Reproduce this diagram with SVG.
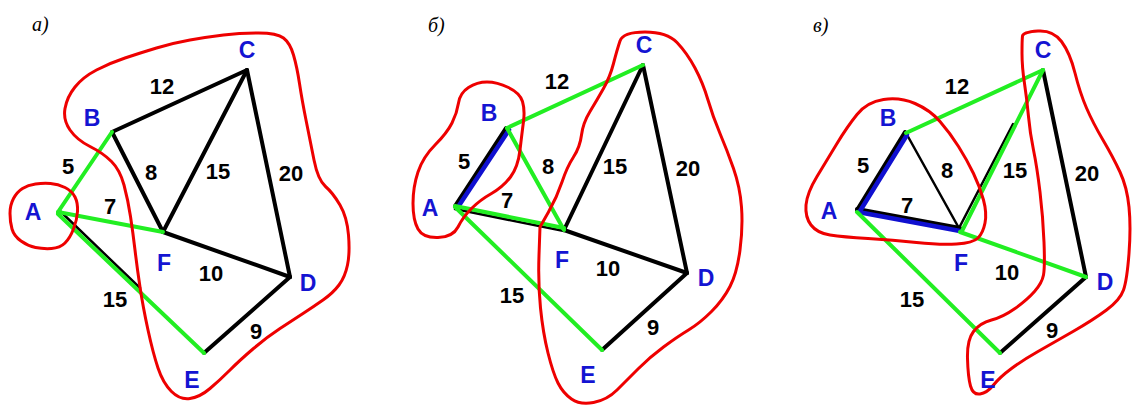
<svg xmlns="http://www.w3.org/2000/svg" width="1133" height="407" viewBox="0 0 1133 407">
<style>
.lbl{font-family:"Liberation Sans",Arial,sans-serif;font-weight:bold;font-size:23px;fill:#1414d2;text-anchor:middle}
.num{font-family:"Liberation Sans",Arial,sans-serif;font-weight:bold;font-size:22px;fill:#000;text-anchor:middle}
.cap{font-family:"Liberation Serif","Times New Roman",serif;font-style:italic;font-size:20px;fill:#000}
.k{stroke:#000;stroke-width:4;stroke-linecap:round;fill:none}
.kt{stroke:#000;stroke-width:2.5;stroke-linecap:round;fill:none}
.g{stroke:#22ee22;stroke-width:4;stroke-linecap:round;fill:none}
.b{stroke:#1010d0;stroke-width:4.5;stroke-linecap:round;fill:none}
.r{stroke:#ee0000;stroke-width:3;fill:none;stroke-linejoin:round}
</style>
<rect width="1133" height="407" fill="#fff"/>
<g id="captions">
<text class="cap" x="32" y="31">а)</text>
<text class="cap" x="428" y="32">б)</text>
<text class="cap" x="813" y="32">в)</text>
</g>
<g id="connectors">
<line class="k" x1="112" y1="132" x2="247" y2="70"/>
<line class="k" x1="112" y1="132" x2="163" y2="232"/>
<line class="k" x1="247" y1="70" x2="163" y2="232"/>
<line class="k" x1="247" y1="70" x2="290" y2="277"/>
<line class="k" x1="163" y1="232" x2="290" y2="277"/>
<line class="k" x1="290" y1="277" x2="204" y2="353"/>
<line class="kt" x1="60" y1="211" x2="140" y2="288"/>
<line class="g" x1="58" y1="212" x2="112" y2="132"/>
<line class="g" x1="58" y1="212" x2="163" y2="232"/>
<line class="g" x1="58" y1="214" x2="204" y2="353"/>
<line class="k" x1="643" y1="65" x2="564" y2="230"/>
<line class="k" x1="643" y1="65" x2="687" y2="273"/>
<line class="k" x1="564" y1="230" x2="687" y2="273"/>
<line class="k" x1="687" y1="273" x2="602" y2="350"/>
<line class="kt" x1="455" y1="209" x2="564" y2="231"/>
<line class="k" x1="455" y1="206" x2="506" y2="128"/>
<line class="b" x1="458" y1="207" x2="509" y2="130"/>
<line class="g" x1="507" y1="128" x2="643" y2="65"/>
<line class="g" x1="507" y1="128" x2="564" y2="230"/>
<line class="g" x1="455" y1="206" x2="564" y2="228"/>
<line class="g" x1="455" y1="207" x2="602" y2="350"/>
<line class="k" x1="1043" y1="70" x2="1086" y2="277"/>
<line class="k" x1="1086" y1="277" x2="1000" y2="353"/>
<line class="kt" x1="906" y1="133" x2="960" y2="230"/>
<line class="kt" x1="958" y1="230" x2="1013" y2="124"/>
<line class="k" x1="857" y1="210" x2="905" y2="132"/>
<line class="k" x1="857" y1="209" x2="960" y2="228"/>
<line class="b" x1="860" y1="211" x2="907" y2="135"/>
<line class="b" x1="858" y1="212" x2="960" y2="231"/>
<line class="g" x1="906" y1="133" x2="1043" y2="70"/>
<line class="g" x1="962" y1="231" x2="1043" y2="70"/>
<line class="g" x1="960" y1="232" x2="1086" y2="277"/>
<line class="g" x1="857" y1="212" x2="1000" y2="353"/>
</g>
<g id="regions">
<path class="r" d="M50.5,183.5 Q58,184 65,187.5 Q72,191 75,197 Q78,203 77.5,211.5 Q77,220 73.5,229 Q70,238 65,243 Q60,248 51.5,248.5 Q43,249 35.5,247.5 Q28,246 21,241 Q14,236 12,229 Q10,222 10,213.5 Q10,205 13.5,198.5 Q17,192 22.5,188.5 Q28,185 35.5,184 Q43,183 50.5,183.5 Z"/>
<path class="r" d="M258.5,33 Q277,33 283.5,38 Q290,43 293.5,55 Q297,67 299.5,83.5 Q302,100 306,120 Q310,140 314,160 Q318,180 325.5,186.5 Q333,193 340,205 Q347,217 348.5,235 Q350,253 347.5,265 Q345,277 339,285 Q333,293 323,300 Q313,307 303,313.5 Q293,320 280,328.5 Q267,337 253.5,348.5 Q240,360 230,370 Q220,380 210,388.5 Q200,397 190,398.5 Q180,400 171.5,391.5 Q163,383 158,368 Q153,353 148,330 Q143,307 140,287 Q137,267 135,250 Q133,233 130.5,216.5 Q128,200 124,185 Q120,170 111.5,161.5 Q103,153 90,146.5 Q77,140 70,130 Q63,120 65,108.5 Q67,97 75,87 Q83,77 96.5,70 Q110,63 125,58 Q140,53 156.5,48 Q173,43 190,40 Q207,37 223.5,35 Q240,33 258.5,33 Z"/>
<path class="r" d="M487,82 Q497,82 508.5,87.5 Q520,93 522.5,101.5 Q525,110 523.5,121.5 Q522,133 520,150 Q518,167 510.5,177 Q503,187 491.5,193.5 Q480,200 471.5,208.5 Q463,217 458,227 Q453,237 438,237.5 Q423,238 418,229 Q413,220 413,203.5 Q413,187 418,172 Q423,157 435,145 Q447,133 452,123 Q457,113 458.5,103 Q460,93 468.5,87.5 Q477,82 487,82 Z"/>
<path class="r" d="M645,32 Q667,32 677,42.5 Q687,53 695,68 Q703,83 708,100 Q713,117 720,133.5 Q727,150 733.5,168.5 Q740,187 741.5,207 Q743,227 740,250 Q737,273 730,286.5 Q723,300 711.5,311.5 Q700,323 688.5,330 Q677,337 663.5,347 Q650,357 638.5,368.5 Q627,380 617,390 Q607,400 593.5,402.5 Q580,405 571.5,399 Q563,393 558,383 Q553,373 548,353 Q543,333 540.5,308 Q538,283 539,255 L540,227 L548.5,212 Q557,197 562,182 Q567,167 573.5,157 Q580,147 581.5,135 Q583,123 590,111.5 Q597,100 603.5,88.5 Q610,77 613.5,63.5 Q617,50 620,41 Q623,32 645,32 Z"/>
<path class="r" d="M883.5,99.5 Q900,97 915,103.5 Q930,110 940,121.5 Q950,133 958.5,146.5 Q967,160 973.5,173.5 Q980,187 983.5,200 Q987,213 985,223 Q983,233 978,238 Q973,243 956.5,244 Q940,245 916.5,242.5 Q893,240 868,238.5 Q843,237 830,235 Q817,233 811,225 Q805,217 806,205 Q807,193 817,176.5 Q827,160 837,143.5 Q847,127 857,114.5 Q867,102 883.5,99.5 Z"/>
<path class="r" d="M1038,31 Q1053,30 1061.5,41.5 Q1070,53 1075,73 Q1080,93 1086.5,108 Q1093,123 1103,140 Q1113,157 1120,172 Q1127,187 1129,207 Q1131,227 1129,253.5 Q1127,280 1123.5,290 Q1120,300 1106.5,310 Q1093,320 1073,331.5 Q1053,343 1038,351.5 Q1023,360 1011.5,368.5 Q1000,377 993.5,385 Q987,393 980,394 Q973,395 970.5,386 Q968,377 967.5,358.5 Q967,340 973.5,331.5 Q980,323 991.5,320 Q1003,317 1015,308.5 Q1027,300 1034.5,291.5 Q1042,283 1043.5,275 Q1045,267 1044,242 Q1043,217 1040,192 Q1037,167 1033.5,150 Q1030,133 1028.5,116.5 Q1027,100 1024.5,83.5 Q1022,67 1022,53.5 Q1022,40 1022.5,36 Q1023,32 1038,31 Z"/>
</g>
<g id="weights">
<text class="num" x="162" y="94">12</text>
<text class="num" x="68" y="174">5</text>
<text class="num" x="151" y="180">8</text>
<text class="num" x="218" y="179">15</text>
<text class="num" x="291" y="181">20</text>
<text class="num" x="110" y="214">7</text>
<text class="num" x="211" y="281">10</text>
<text class="num" x="115" y="307">15</text>
<text class="num" x="256" y="339">9</text>
<text class="num" x="557" y="89">12</text>
<text class="num" x="464" y="169">5</text>
<text class="num" x="548" y="174">8</text>
<text class="num" x="615" y="174">15</text>
<text class="num" x="688" y="176">20</text>
<text class="num" x="507" y="208">7</text>
<text class="num" x="608" y="276">10</text>
<text class="num" x="512" y="303">15</text>
<text class="num" x="653" y="335">9</text>
<text class="num" x="957" y="94">12</text>
<text class="num" x="863" y="173">5</text>
<text class="num" x="947" y="178">8</text>
<text class="num" x="1015" y="178">15</text>
<text class="num" x="1087" y="181">20</text>
<text class="num" x="907" y="213">7</text>
<text class="num" x="1007" y="280">10</text>
<text class="num" x="912" y="307">15</text>
<text class="num" x="1052" y="338">9</text>
</g>
<g id="a-A"><text class="lbl" x="33" y="220">A</text></g>
<g id="a-B"><text class="lbl" x="92" y="126">B</text></g>
<g id="a-C"><text class="lbl" x="247" y="58">C</text></g>
<g id="a-D"><text class="lbl" x="308" y="291">D</text></g>
<g id="a-E"><text class="lbl" x="192" y="388">E</text></g>
<g id="a-F"><text class="lbl" x="164" y="271">F</text></g>
<g id="b-A"><text class="lbl" x="430" y="216">A</text></g>
<g id="b-B"><text class="lbl" x="489" y="121">B</text></g>
<g id="b-C"><text class="lbl" x="644" y="53">C</text></g>
<g id="b-D"><text class="lbl" x="706" y="286">D</text></g>
<g id="b-E"><text class="lbl" x="588" y="383">E</text></g>
<g id="b-F"><text class="lbl" x="562" y="268">F</text></g>
<g id="c-A"><text class="lbl" x="829" y="219">A</text></g>
<g id="c-B"><text class="lbl" x="888" y="126">B</text></g>
<g id="c-C"><text class="lbl" x="1043" y="58">C</text></g>
<g id="c-D"><text class="lbl" x="1105" y="290">D</text></g>
<g id="c-E"><text class="lbl" x="988" y="388">E</text></g>
<g id="c-F"><text class="lbl" x="961" y="271">F</text></g>
</svg>
